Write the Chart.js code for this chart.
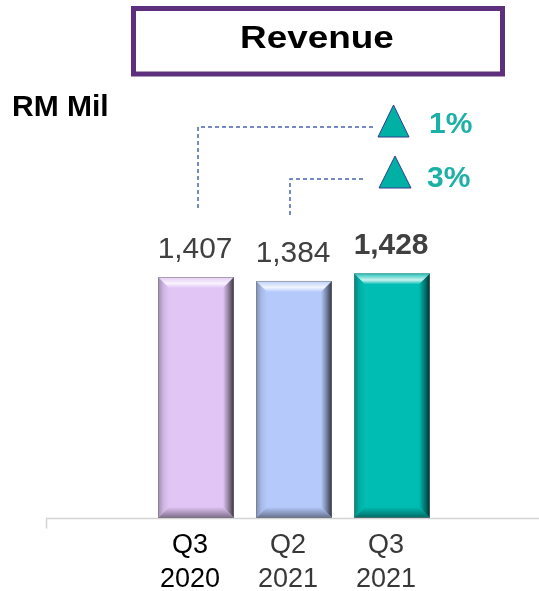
<!DOCTYPE html>
<html>
<head>
<meta charset="utf-8">
<script src="https://cdn.jsdelivr.net/npm/chart.js@4/dist/chart.umd.min.js"></script>
<style>
  html, body { margin: 0; padding: 0; background: #ffffff; overflow: hidden; }
  #wrap { position: relative; width: 539px; height: 591px; }
</style>
</head>
<body>
<div id="wrap"><canvas id="c" width="539" height="591"></canvas></div>
<script>
// ---- data ----
const categories = [['Q3', '2020'], ['Q2', '2021'], ['Q3', '2021']];
const revenue = [1407, 1384, 1428];
const valueLabels = ['1,407', '1,384', '1,428'];
const boldLabel = [false, false, true];
const growthLabels = ['1%', '3%'];   // YoY (Q3 2020 -> Q3 2021), QoQ (Q2 2021 -> Q3 2021)
const titleText = 'Revenue';
const unitText = 'RM Mil';

// ---- styles ----
const faceColors = ['#E1C5F5', '#B5CAFB', '#00BDB3'];
const tickColors = ['#000000', '#383838', '#383838'];
const FONT = 'Arial, "Liberation Sans", Helvetica, sans-serif';

function shade(hex, amt) {
  const n = parseInt(hex.slice(1), 16);
  let r = (n >> 16) & 255, g = (n >> 8) & 255, b = n & 255;
  if (amt >= 0) { r += (255 - r) * amt; g += (255 - g) * amt; b += (255 - b) * amt; }
  else { r *= (1 + amt); g *= (1 + amt); b *= (1 + amt); }
  return 'rgb(' + Math.round(r) + ',' + Math.round(g) + ',' + Math.round(b) + ')';
}

function stretchedText(ctx, text, x, y, sx) {
  ctx.save();
  ctx.translate(x, y);
  ctx.scale(sx, 1);
  ctx.fillText(text, 0, 0);
  ctx.restore();
}

const decorPlugin = {
  id: 'decor',
  beforeDraw(chart) {
    const ctx = chart.ctx;
    ctx.save();
    // title box
    ctx.strokeStyle = '#5E2F7D';
    ctx.lineWidth = 5;
    ctx.strokeRect(133.5, 8.5, 369, 65.5);
    ctx.fillStyle = '#000000';
    ctx.font = 'bold 31px ' + FONT;
    ctx.textAlign = 'center';
    ctx.textBaseline = 'alphabetic';
    stretchedText(ctx, titleText, 317, 48, 1.19);
    // unit
    ctx.textAlign = 'left';
    ctx.font = 'bold 30px ' + FONT;
    ctx.fillText(unitText, 12, 116);
    // base axis line
    ctx.strokeStyle = '#D4D4D4';
    ctx.lineWidth = 1.5;
    const yb = chart.chartArea.bottom + 0.5;
    ctx.beginPath();
    ctx.moveTo(46, yb); ctx.lineTo(539, yb);
    ctx.moveTo(46.5, yb); ctx.lineTo(46.5, yb + 10);
    ctx.stroke();
    ctx.restore();
  },
  afterDatasetsDraw(chart) {
    const ctx = chart.ctx;
    const meta = chart.getDatasetMeta(0);
    ctx.save();
    meta.data.forEach((bar, i) => {
      const w = bar.width;
      const l = bar.x - w / 2, r = bar.x + w / 2, t = bar.y, bt = bar.base;
      const b = 11;
      const face = faceColors[i];
      // top bevel
      let g = ctx.createLinearGradient(0, t, 0, t + b);
      g.addColorStop(0, shade(face, 0.1));
      g.addColorStop(0.6, shade(face, 0.8));
      g.addColorStop(1, face);
      ctx.fillStyle = g;
      ctx.beginPath();
      ctx.moveTo(l, t); ctx.lineTo(r, t); ctx.lineTo(r - b, t + b); ctx.lineTo(l + b, t + b); ctx.closePath();
      ctx.fill();
      // left bevel
      g = ctx.createLinearGradient(l, 0, l + b, 0);
      g.addColorStop(0, shade(face, -0.3));
      g.addColorStop(0.5, shade(face, -0.08));
      g.addColorStop(1, face);
      ctx.fillStyle = g;
      ctx.beginPath();
      ctx.moveTo(l, t); ctx.lineTo(l + b, t + b); ctx.lineTo(l + b, bt - b); ctx.lineTo(l, bt); ctx.closePath();
      ctx.fill();
      // right bevel
      g = ctx.createLinearGradient(r - b, 0, r, 0);
      g.addColorStop(0, face);
      g.addColorStop(0.5, shade(face, -0.35));
      g.addColorStop(1, shade(face, -0.75));
      ctx.fillStyle = g;
      ctx.beginPath();
      ctx.moveTo(r, t); ctx.lineTo(r - b, t + b); ctx.lineTo(r - b, bt - b); ctx.lineTo(r, bt); ctx.closePath();
      ctx.fill();
      // bottom bevel
      g = ctx.createLinearGradient(0, bt - b, 0, bt);
      g.addColorStop(0, face);
      g.addColorStop(1, shade(face, -0.45));
      ctx.fillStyle = g;
      ctx.beginPath();
      ctx.moveTo(l, bt); ctx.lineTo(l + b, bt - b); ctx.lineTo(r - b, bt - b); ctx.lineTo(r, bt); ctx.closePath();
      ctx.fill();
      // outline
      ctx.strokeStyle = 'rgba(120,120,120,0.55)';
      ctx.lineWidth = 1;
      ctx.strokeRect(l + 0.5, t + 0.5, w - 1, bt - t - 1);
      // value label
      ctx.fillStyle = '#404040';
      ctx.font = (boldLabel[i] ? 'bold ' : '') + '29px ' + FONT;
      ctx.textAlign = 'center';
      ctx.textBaseline = 'alphabetic';
      stretchedText(ctx, valueLabels[i], bar.x - 1, t - 19, 1.03);
    });

    // growth annotations
    const x0 = meta.data[0].x, x1 = meta.data[1].x;
    ctx.strokeStyle = '#4A63B0';
    ctx.lineWidth = 1.5;
    ctx.setLineDash([4, 3]);
    ctx.beginPath();
    ctx.moveTo(x0 + 2, 208); ctx.lineTo(x0 + 2, 127); ctx.lineTo(373, 127);
    ctx.moveTo(x1 - 4, 215); ctx.lineTo(x1 - 4, 179); ctx.lineTo(366, 179);
    ctx.stroke();
    ctx.setLineDash([]);
    const tris = [[378, 409, 105, 137], [379, 411, 156, 188]];
    tris.forEach(([a, c, top, base]) => {
      ctx.fillStyle = '#00B0A5';
      ctx.strokeStyle = '#2E3D8F';
      ctx.lineWidth = 1;
      ctx.beginPath();
      ctx.moveTo((a + c) / 2, top); ctx.lineTo(c, base); ctx.lineTo(a, base); ctx.closePath();
      ctx.fill(); ctx.stroke();
    });
    ctx.fillStyle = '#1CB0A6';
    ctx.font = 'bold 30px ' + FONT;
    ctx.textAlign = 'left';
    ctx.fillText(growthLabels[0], 429, 133);
    ctx.fillText(growthLabels[1], 427, 187);
    ctx.restore();
  }
};

new Chart(document.getElementById('c'), {
  type: 'bar',
  data: {
    labels: categories,
    datasets: [{
      data: revenue,
      backgroundColor: faceColors,
      borderWidth: 0,
      categoryPercentage: 1,
      barPercentage: 0.7755
    }]
  },
  options: {
    responsive: false,
    animation: false,
    layout: { padding: { left: 147, right: 98, top: 175.44, bottom: 0 } },
    plugins: { legend: { display: false }, tooltip: { enabled: false } },
    scales: {
      y: { display: false, min: 0, max: 2000 },
      x: {
        grid: { display: false, drawTicks: false },
        border: { display: false },
        ticks: {
          color: tickColors,
          font: { family: FONT, size: 27, lineHeight: 1.26 },
          padding: 11,
          labelOffset: -6,
          maxRotation: 0,
          autoSkip: false
        },
        afterFit(scale) { scale.height = 73; }
      }
    }
  },
  plugins: [decorPlugin]
});
</script>
</body>
</html>
